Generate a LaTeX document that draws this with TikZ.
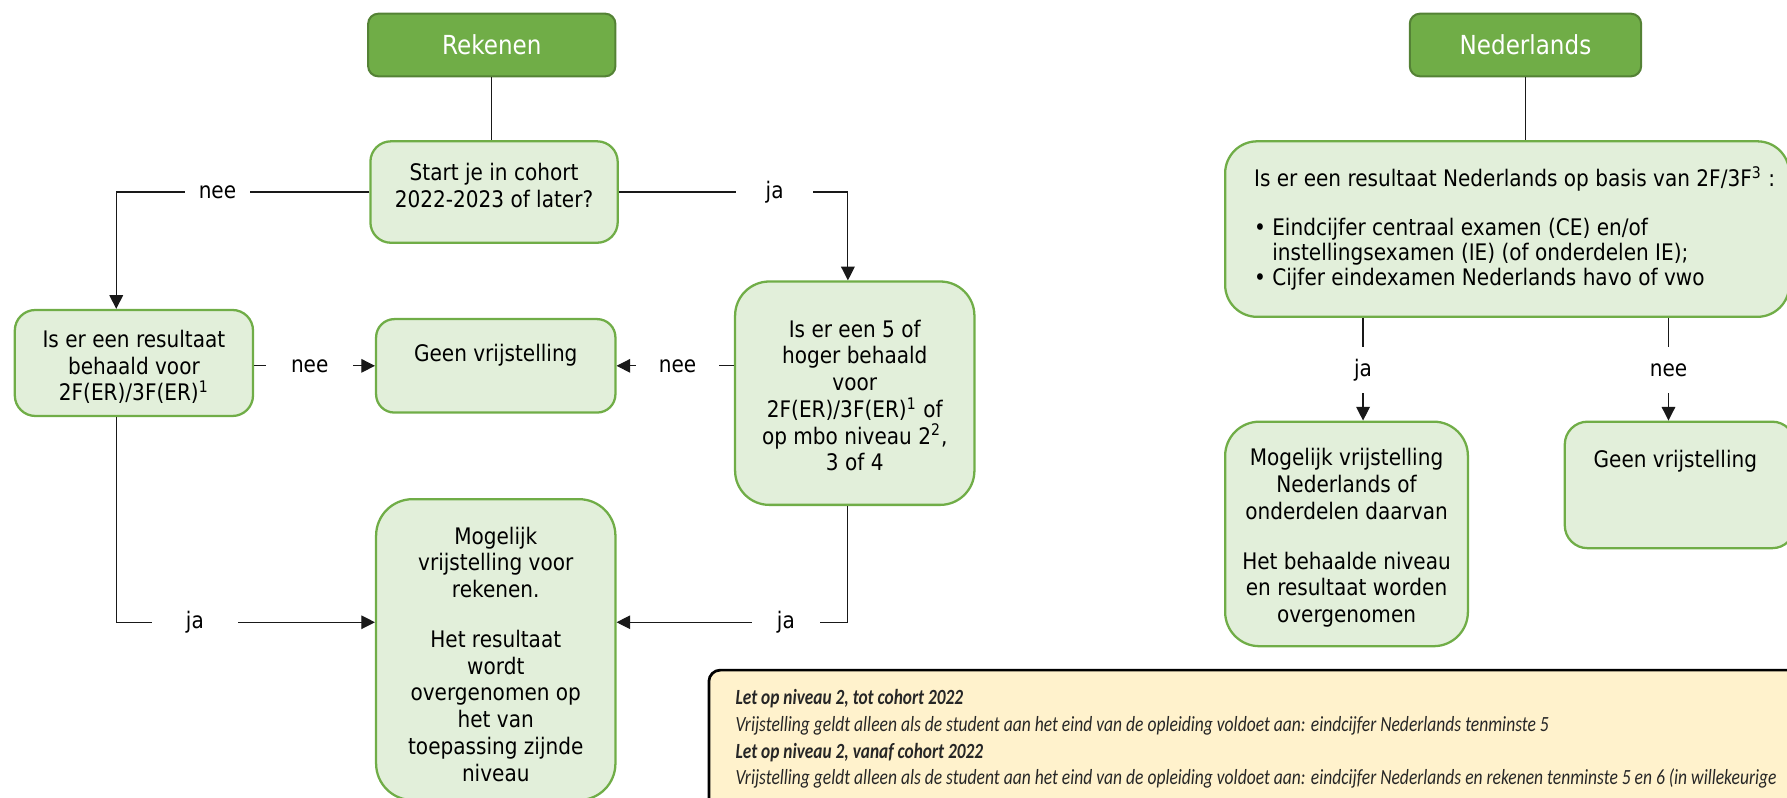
\documentclass[tikz,border=0pt]{standalone}
\usepackage{fontspec}
\setmainfont{DejaVu Sans}[FakeStretch=0.88]
\newfontfamily\notefont{Carlito}
\usetikzlibrary{arrows.meta,calc}
\definecolor{hdrfill}{HTML}{70AD47}
\definecolor{hdrline}{HTML}{548235}
\definecolor{boxfill}{HTML}{E2EFDA}
\definecolor{boxline}{HTML}{70AD47}
\definecolor{notefill}{HTML}{FFF2CC}
\newcommand\nsq[2]{\scalebox{#1}[1]{#2}}
\begin{document}
\begin{tikzpicture}[x=0.5pt,y=-0.5pt,
 hdr/.style={draw=hdrline, fill=hdrfill, line width=0.9pt, rounded corners=4.5pt, inner sep=0pt, text=white, font=\fontsize{11.5}{13}\selectfont},
 box/.style={draw=boxline, fill=boxfill, line width=1pt, inner sep=0pt},
 txt/.style={align=center, font=\fontsize{10}{11.75}\selectfont, inner sep=0pt},
 conn/.style={line width=0.5pt, draw=black!90},
 arr/.style={conn, -{Triangle[length=6pt,width=6pt]}},
 lbl/.style={fill=white, font=\fontsize{10}{12}\selectfont, inner ysep=1pt, text height=7.5pt, text depth=2pt},
 notetxt/.style={inner sep=0pt, anchor=west, text=black!85, font=\notefont\itshape\fontsize{9.5}{11}\selectfont},
]
\clip (0,0) rectangle (1568,700);
% Rekenen
\node[hdr, minimum width=108.5pt, minimum height=27.5pt] (rek) at (431.5,39.5) {Rekenen};
\node[box, rounded corners=9pt, minimum width=108.5pt, minimum height=44.5pt] (start) at (433.5,168.5) {};
\node[txt] (starttxt) at (433.5,163) {Start je in cohort\\2022-2023 of later?};
\node[box, rounded corners=9pt, minimum width=104.5pt, minimum height=46.5pt] (q1) at (117.5,318.5) {};
\node[txt] (q1txt) at (117.5,322) {Is er een resultaat\\behaald voor\\2F(ER)/3F(ER)\textsuperscript{1}};
\node[box, rounded corners=8pt, minimum width=105pt, minimum height=41pt] (geen1) at (435,321) {};
\node[txt] (geen1txt) at (435,312) {Geen vrijstelling};
\node[box, rounded corners=15pt, minimum width=105pt, minimum height=98pt] (q2) at (750,345) {};
\node[txt] (q2txt) at (750,347) {Is er een 5 of\\hoger behaald\\voor\\2F(ER)/3F(ER)\textsuperscript{1} of\\op mbo niveau 2\textsuperscript{2},\\3 of 4};
\node[box, rounded corners=16pt, minimum width=105pt, minimum height=132pt] (mog1) at (435,570) {};
\node[txt] (mog1txt) at (435,574) {Mogelijk\\vrijstelling voor\\rekenen.\\[10pt]Het resultaat\\wordt\\overgenomen op\\het van\\toepassing zijnde\\niveau};
% Nederlands
\node[hdr, minimum width=101.5pt, minimum height=27.5pt] (ned) at (1338.5,39.5) {Nederlands};
\node[box, rounded corners=14pt, minimum width=247.5pt, minimum height=77pt] (nq) at (1322.5,201) {};
\node[txt, align=left, anchor=west, font=\fontsize{10}{11}\selectfont] (nqtxt) at (1100,200.5) {Is er een resultaat Nederlands op basis van 2F/3F\textsuperscript{3} :\\[10.5pt]\textbullet\ Eindcijfer centraal examen (CE) en/of\\\phantom{\textbullet\ }instellingsexamen (IE) (of onderdelen IE);\\\textbullet\ Cijfer eindexamen Nederlands havo of vwo};
\node[box, rounded corners=15pt, minimum width=106.5pt, minimum height=98.5pt] (mog2) at (1181.5,468.5) {};
\node[txt] (mog2txt) at (1181.5,472) {Mogelijk vrijstelling\\Nederlands of\\onderdelen daarvan\\[10pt]Het behaalde niveau\\en resultaat worden\\overgenomen};
\node[box, rounded corners=10pt, minimum width=101pt, minimum height=55.5pt] (geen2) at (1474,425.5) {};
\node[txt] (geen2txt) at (1470,405) {Geen vrijstelling};
% note
\node[draw=black, line width=1.2pt, fill=notefill, rounded corners=5pt, minimum width=509pt, minimum height=76pt, inner sep=0pt] (note) at (1131,664) {};
\node[notetxt] (n1) at (645,613) {\bfseries\nsq{0.80}{Let op niveau 2, tot cohort 2022}};
\node[notetxt] (n2) at (645,637) {\nsq{0.81}{Vrijstelling geldt alleen als de student aan het eind van de opleiding voldoet aan: eindcijfer Nederlands tenminste 5}};
\node[notetxt] (n3) at (645,660) {\bfseries\nsq{0.80}{Let op niveau 2, vanaf cohort 2022}};
\node[notetxt] (n4) at (645,683) {\nsq{0.81}{Vrijstelling geldt alleen als de student aan het eind van de opleiding voldoet aan: eindcijfer Nederlands en rekenen tenminste 5 en 6 (in willekeurige}};
% connectors Rekenen
\draw[conn] (rek.south) -- (rek.south |- start.north);
\draw[arr] (start.west) -| node[lbl, pos=0.3, inner xsep=6pt]{nee} ([xshift=45pt]q1.north west);
\draw[arr] (start.east) -| node[lbl, pos=0.34, inner xsep=13pt]{ja} ([xshift=50pt]q2.north west);
\draw[arr] (q1.east |- geen1.west) -- node[lbl, pos=0.46, inner xsep=11pt]{nee} (geen1.west);
\draw[arr] (q2.west |- geen1.east) -- node[lbl, pos=0.48, inner xsep=10pt]{nee} (geen1.east);
\draw[arr] ([xshift=45pt]q1.south west) |- node[lbl, pos=0.652, inner xsep=15pt]{ja} ([yshift=12pt]mog1.west);
\draw[arr] ([xshift=50pt]q2.south west) |- node[lbl, pos=0.634, inner xsep=11pt]{ja} ([yshift=12pt]mog1.east);
% connectors Nederlands
\draw[conn] (ned.south) -- (ned.south |- nq.north);
\coordinate (a2) at ([xshift=7.25pt]mog2.north);
\coordinate (a3) at ([xshift=-5pt]geen2.north);
\draw[arr] (nq.south -| a2) -- node[lbl, pos=0.51, inner xsep=2pt, inner ysep=5.25pt]{ja} (a2);
\draw[arr] (nq.south -| a3) -- node[lbl, pos=0.51, inner xsep=2pt, inner ysep=5.25pt]{nee} (a3);
\end{tikzpicture}
\end{document}
